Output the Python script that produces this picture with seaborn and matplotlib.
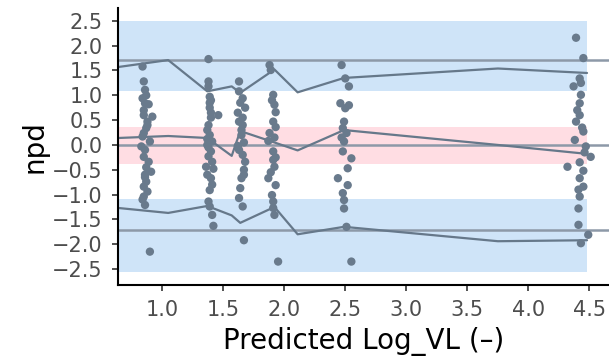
import numpy as np
import pandas as pd
import matplotlib
matplotlib.use("Agg")
import matplotlib.pyplot as plt
import seaborn as sns

# ---- observed npd points (per bin cluster) ----
c1_x = [0.84, 0.85, 0.86, 0.84, 0.86, 0.89, 0.85, 0.92, 0.88, 0.87, 0.85, 0.84, 0.90, 0.83,
        0.86, 0.85, 0.89, 0.91, 0.86, 0.87, 0.85, 0.88, 0.85, 0.86, 0.87, 0.85, 0.88, 0.90,
        0.86, 0.84, 0.87]
c1_y = [1.58, 1.28, 1.11, 0.94, 0.84, 0.82, 0.70, 0.57, 0.47, 0.34, 0.24, 0.17, 0.07, -0.03,
        -0.10, -0.24, -0.34, -0.54, -0.60, -0.74, -0.84, -0.94, -1.04, -1.21, -0.45, 0.60,
        0.40, -2.15, -0.65, -1.10, 1.00]
c2_x = [1.38, 1.38, 1.38, 1.39, 1.40, 1.39, 1.46, 1.40, 1.38, 1.37, 1.39, 1.41, 1.37, 1.40,
        1.38, 1.41, 1.36, 1.42, 1.37, 1.40, 1.39, 1.38, 1.39, 1.41, 1.42, 1.39, 1.40, 1.38,
        1.41, 1.37]
c2_y = [1.73, 1.28, 1.18, 0.97, 0.90, 0.75, 0.60, 0.55, 0.40, 0.30, 0.20, 0.07, 0.00, -0.13,
        -0.23, -0.34, -0.44, -0.48, -0.60, -0.67, -0.91, -1.14, -1.24, -1.41, -1.63, 0.85,
        0.65, -0.05, -0.80, 0.12]
c3_x = [1.63, 1.63, 1.66, 1.68, 1.62, 1.63, 1.66, 1.65, 1.67, 1.62, 1.66, 1.68, 1.67, 1.65,
        1.64, 1.63, 1.66, 1.67, 1.64, 1.66, 1.65, 1.63, 1.67]
c3_y = [1.28, 1.08, 0.94, 0.75, 0.65, 0.47, 0.40, 0.20, 0.05, -0.02, -0.20, -0.34, -0.50,
        -0.67, -0.87, -1.07, -1.24, -1.92, 0.85, 0.55, 0.30, -0.10, -0.60]
c4_x = [1.88, 1.89, 1.91, 1.92, 1.93, 1.91, 1.93, 1.88, 1.87, 1.91, 1.93, 1.92, 1.87, 1.93,
        1.90, 1.91, 1.91, 1.92, 1.95, 1.90, 1.92, 1.89, 1.91]
c4_y = [1.61, 1.51, 1.01, 0.81, 0.66, 0.47, 0.36, 0.24, 0.08, -0.13, -0.25, -0.44, -0.67,
        -0.81, -1.01, -1.14, -1.27, -1.41, -2.35, 0.90, 0.15, -0.55, -0.30]
c5_x = [2.47, 2.50, 2.53, 2.46, 2.50, 2.49, 2.48, 2.51, 2.49, 2.48, 2.55, 2.52, 2.44, 2.52,
        2.48, 2.49, 2.49, 2.51, 2.55, 2.53, 2.47]
c5_y = [1.61, 1.34, 1.18, 0.84, 0.74, 0.47, 0.34, 0.24, 0.07, -0.13, -0.27, -0.47, -0.67,
        -0.81, -0.97, -1.11, -1.28, -1.65, -2.35, 0.80, 0.15]
c6_x = [4.39, 4.45, 4.42, 4.37, 4.43, 4.42, 4.42, 4.39, 4.45, 4.38, 4.47, 4.51, 4.32, 4.42,
        4.45, 4.42, 4.45, 4.42, 4.41, 4.41, 4.49, 4.43, 4.40, 4.44, 4.46, 4.41, 4.43]
c6_y = [2.16, 1.75, 1.34, 1.18, 1.01, 0.84, 0.60, 0.47, 0.27, 0.10, -0.03, -0.24, -0.44,
        -0.35, -0.52, -0.67, -0.84, -1.04, -1.28, -1.61, -1.81, -1.98, 0.70, 0.35, -0.15,
        -0.90, 1.25]

# ---- percentile lines of observed data ----
bin_x = [0.64, 1.05, 1.37, 1.57, 1.64, 1.92, 2.11, 2.49, 3.75, 4.48]
p95_y = [1.57, 1.71, 1.08, 1.18, 1.05, 1.52, 1.06, 1.35, 1.54, 1.45]
p50_y = [0.14, 0.18, 0.14, -0.22, 0.28, 0.05, -0.11, 0.30, 0.00, -0.18]
p05_y = [-1.27, -1.37, -1.23, -1.42, -1.57, -1.25, -1.80, -1.65, -1.94, -1.92]

# ---- theoretical reference lines and prediction interval bands ----
ref_y = [1.72, 0.0, -1.72]
band_hi = [1.09, 2.50]
band_mid = [-0.38, 0.36]
band_lo = [-2.56, -1.09]
band_x = [0.64, 4.48]

xticks = [1.0, 1.5, 2.0, 2.5, 3.0, 3.5, 4.0, 4.5]
yticks = [2.5, 2.0, 1.5, 1.0, 0.5, 0.0, -0.5, -1.0, -1.5, -2.0, -2.5]

pts = pd.DataFrame({
    "x": c1_x + c2_x + c3_x + c4_x + c5_x + c6_x,
    "y": c1_y + c2_y + c3_y + c4_y + c5_y + c6_y,
})
lines = pd.DataFrame({
    "x": bin_x * 3,
    "y": p95_y + p50_y + p05_y,
    "q": ["p95"] * len(bin_x) + ["p50"] * len(bin_x) + ["p05"] * len(bin_x),
})

sns.set_theme(style="ticks")
plt.rcParams["font.family"] = ["DejaVu Sans"]

fig = plt.figure(figsize=(6.09, 3.62), dpi=100)
ax = fig.add_axes([0.194, 0.213, 0.806, 0.765])

blue = "#CFE4F8"
pink = "#FFDDE3"
ax.fill_between(band_x, band_hi[0], band_hi[1], color=blue, lw=0, zorder=0)
ax.fill_between(band_x, band_lo[0], band_lo[1], color=blue, lw=0, zorder=0)
ax.fill_between(band_x, band_mid[0], band_mid[1], color=pink, lw=0, zorder=0)

for r in ref_y:
    ax.axhline(r, color="#8D99A8", lw=1.8, zorder=1)

sns.lineplot(data=lines, x="x", y="y", units="q", estimator=None, color="#66788A",
             lw=1.6, ax=ax, zorder=2, sort=False)
sns.scatterplot(data=pts, x="x", y="y", color="#697A8C", s=36, edgecolor="none",
                ax=ax, zorder=3)

ax.set_xlim(0.64, 4.66)
ax.set_ylim(-2.82, 2.76)
ax.set_xticks(xticks)
ax.set_yticks(yticks)
ax.set_xticklabels([f"{t:.1f}" for t in xticks])
ax.set_yticklabels([f"{t:.1f}".replace("-", "\u2212") for t in yticks])
ax.tick_params(axis="both", labelsize=15, length=4, width=1.2,
               labelcolor="#4D4D4D", color="#333333", pad=7)
for side in ["top", "right"]:
    ax.spines[side].set_visible(False)
for side in ["left", "bottom"]:
    ax.spines[side].set_color("black")
    ax.spines[side].set_linewidth(1.5)

ax.set_xlabel("Predicted Log_VL (\u2013)", fontsize=20, color="black", labelpad=5)
ax.set_ylabel("npd", fontsize=20, color="black", labelpad=3)

fig.savefig("out.png", dpi=100)
